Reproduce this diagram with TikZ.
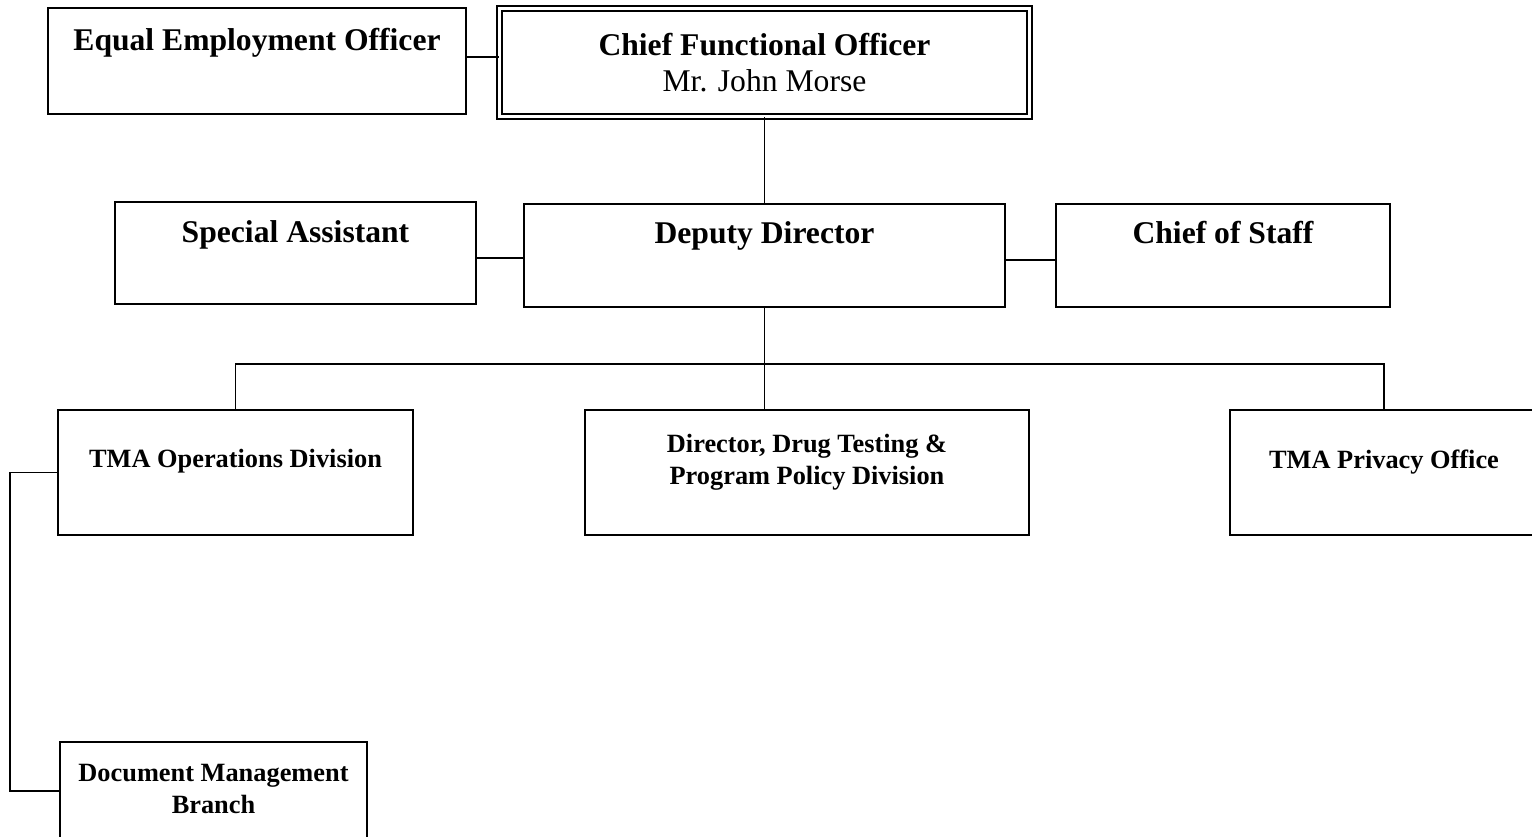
\documentclass[tikz,border=0pt]{standalone}
\usepackage{fontspec}
\setmainfont{Liberation Serif}
\usetikzlibrary{positioning, calc}

\tikzset{
    unit/.style={draw, rectangle, line width=1pt, inner sep=0pt},
    topunit/.style={unit, double, line width=1.1pt, double distance=1.6pt},
    wire/.style={line width=1pt},
    bigtitle/.style={font=\fontsize{18}{20.5}\selectfont\bfseries, align=center, anchor=base, inner sep=0pt},
    smalltitle/.style={font=\fontsize{15}{17.8}\selectfont\bfseries, align=center, anchor=base, inner sep=0pt}
}

\begin{document}
\begin{tikzpicture}[x=0.02cm, y=-0.02cm]
        \clip (0,0) rectangle (1532,836);

        % Boxes
        \foreach \id/\cx/\cy/\w/\h in {
            eeo/257/61/418/106,
            sa/295.5/253/361/102,
            dd/764.5/255.5/481/103,
            cos/1223/255.5/334/103,
            ops/235.5/472.5/355/125,
            dir/807/472.5/444/125,
            priv/1384/472.5/308/125,
            doc/213.5/791/307/98
        } {
            \node[unit, minimum width=\w*0.02cm, minimum height=\h*0.02cm]
                  (\id) at (\cx,\cy) {};
        }
        \node[topunit, minimum width=530*0.02cm, minimum height=108*0.02cm]
              (cfo) at (764.5,62.5) {};

        % Titles (base = last line)
        \node[bigtitle] (eeo-t) at ($(eeo.north)+(0,43)$) {Equal Employment Officer};
        \node[bigtitle] (cfo-t) at ($(cfo.north)+(0,83.5)$) {Chief Functional Officer\\{\mdseries Mr. John Morse}};
        \node[bigtitle] (sa-t) at ($(sa.north)+(0,41)$) {Special Assistant};
        \node[bigtitle] (dd-t) at ($(dd.north)+(0,40)$) {Deputy Director};
        \node[bigtitle] (cos-t) at ($(cos.north)+(0,40)$) {Chief of Staff};
        \node[smalltitle] (ops-t) at ($(ops.north)+(0,58.5)$) {TMA Operations Division};
        \node[smalltitle] (dir-t) at ($(dir.north)+(0,75)$) {Director, Drug Testing \&\\Program Policy Division};
        \node[smalltitle] (priv-t) at ($(priv.north)+(0,59)$) {TMA Privacy Office};
        \node[smalltitle] (doc-t) at ($(doc.north)+(0,72)$) {Document Management\\Branch};

        % Connectors
        \draw[wire] ($(eeo.east)+(0,-4)$) -- ($(eeo.east -| cfo.west)+(0,-4)$);
        \draw[wire] (cfo.south) -- (dd.north);
        \draw[wire] ($(sa.east)+(0,5)$) -- ($(sa.east -| dd.west)+(0,5)$);
        \draw[wire] ($(dd.east)+(0,4.5)$) -- ($(dd.east -| cos.west)+(0,4.5)$);
        \coordinate (bus) at ($(dd.south)+(0,56)$);
        \draw[wire] (dd.south) -- (dd.south |- dir.north);
        \draw[wire] (ops.north) |- (bus) -| (priv.north);
        \coordinate (spine) at (10,0);
        \draw[wire] (ops.west) -- (ops.west -| spine) |- (doc.west);
\end{tikzpicture}
\end{document}
